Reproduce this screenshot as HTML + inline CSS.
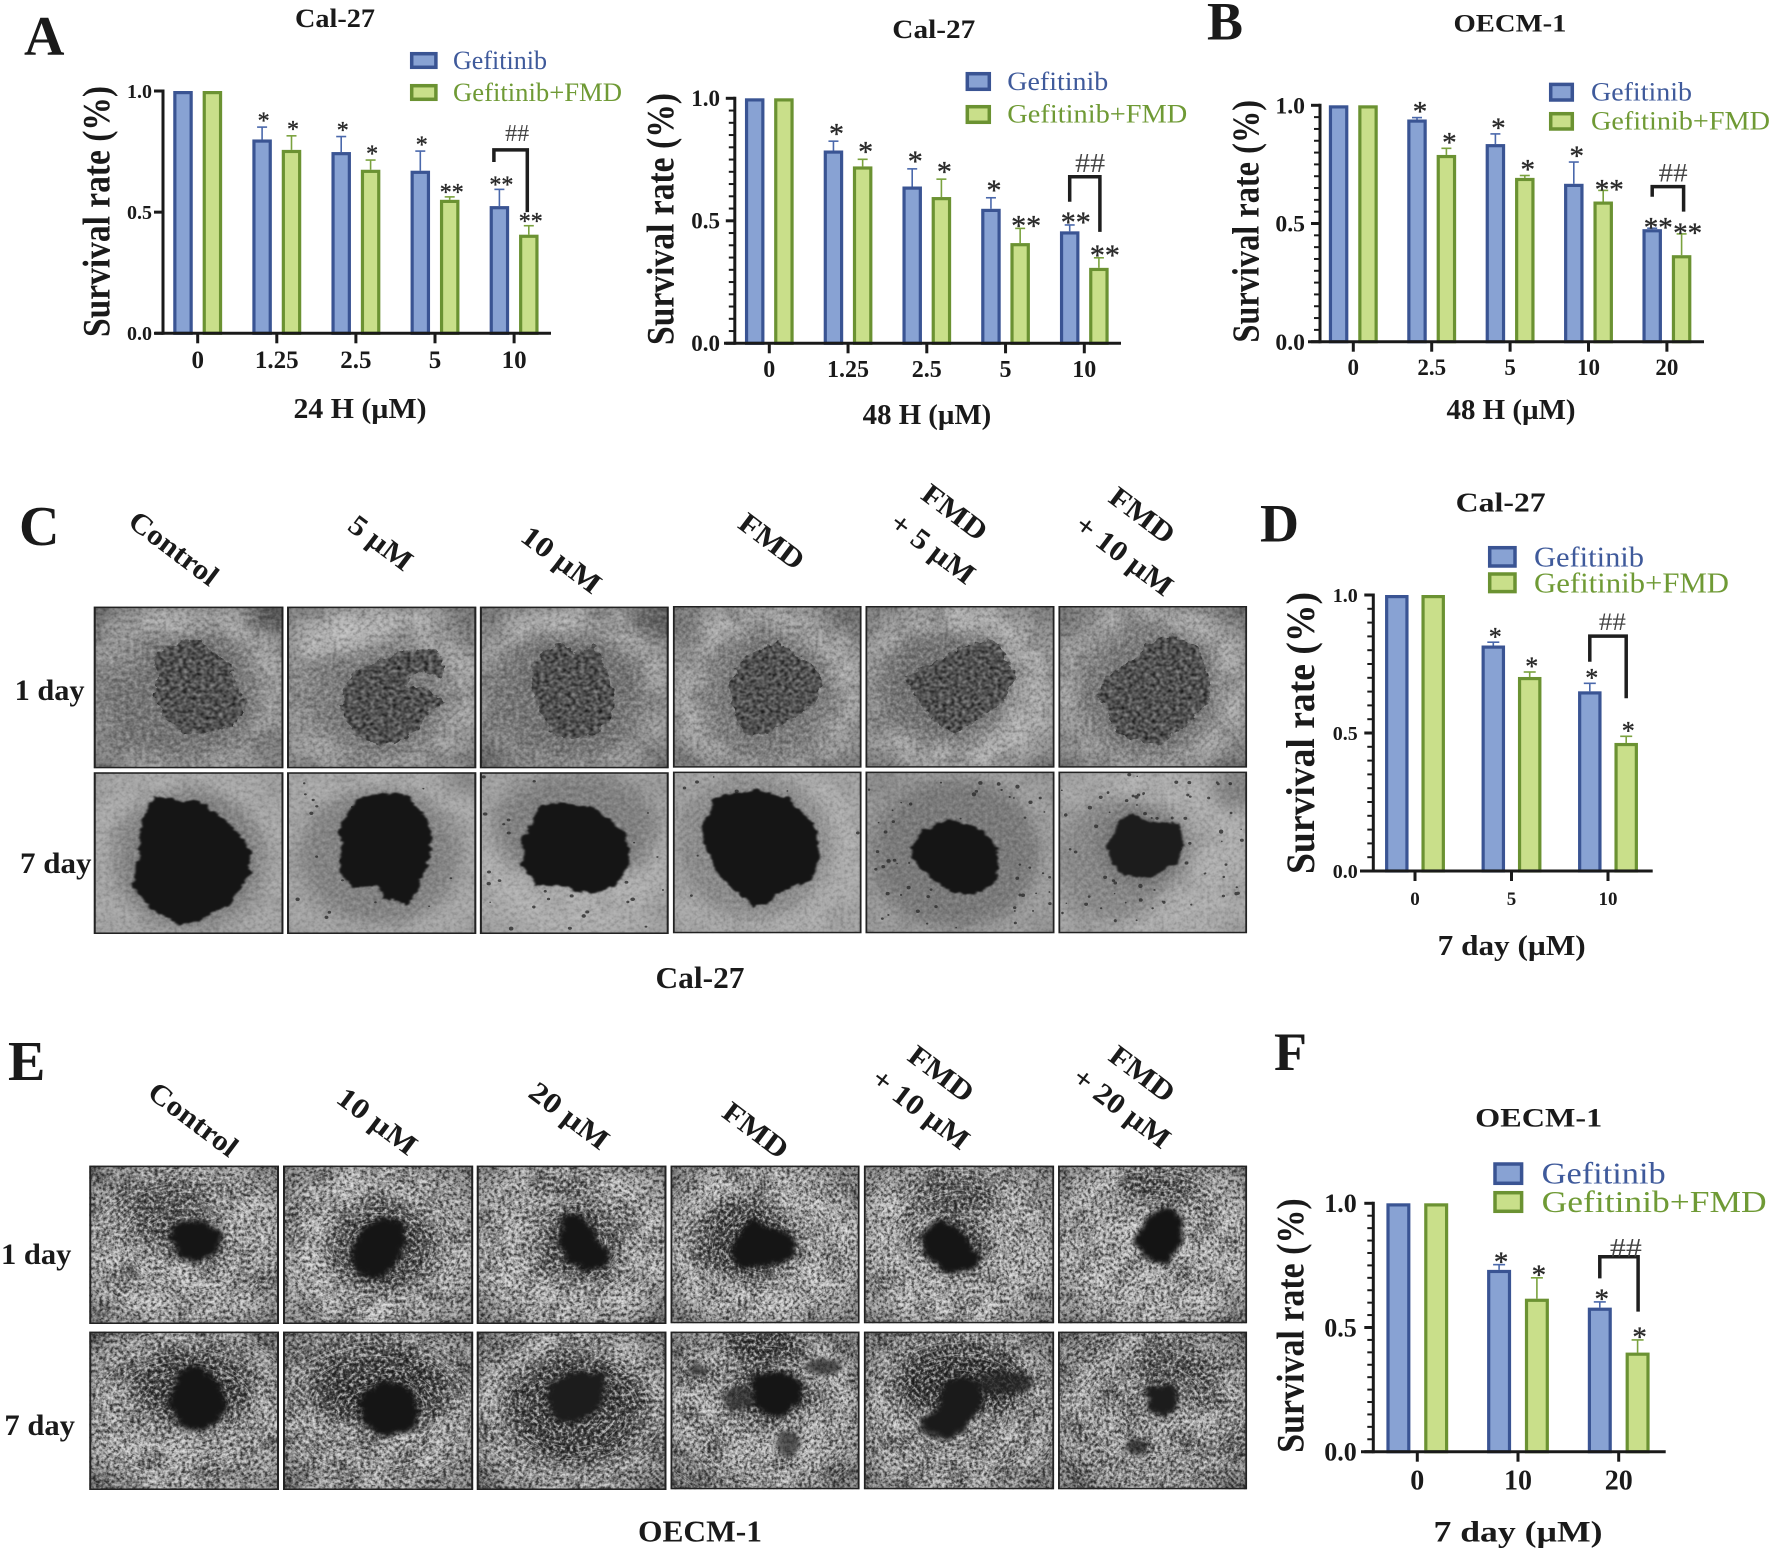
<!DOCTYPE html>
<html lang="en">
<head>
<meta charset="utf-8">
<title>Survival rate and spheroid figure</title>
<style>
html,body{margin:0;padding:0;background:#fff;}
svg#figure{display:block;font-family:"Liberation Serif",serif;}
.b{font-weight:bold;fill:#1a1a1a;}
.lg-blue{fill:#3f5a9b;}
.lg-green{fill:#6f9a35;}
.sw-blue{fill:#88a2d3;stroke:#3a5493;stroke-width:3.5;}
.sw-green{fill:#c9df8a;stroke:#6b9232;stroke-width:3.5;}
</style>
</head>
<body>
<svg id="figure" xmlns="http://www.w3.org/2000/svg" width="1772" height="1552" viewBox="0 0 1772 1552">
<defs>
<filter id="blur" x="-40%" y="-40%" width="180%" height="180%"><feGaussianBlur stdDeviation="24"/></filter>
<filter id="rough" x="-15%" y="-15%" width="130%" height="130%" color-interpolation-filters="sRGB">
<feTurbulence type="fractalNoise" baseFrequency=".05" numOctaves="3" seed="4" result="n"/>
<feDisplacementMap in="SourceGraphic" in2="n" scale="20" xChannelSelector="R" yChannelSelector="G"/>
<feGaussianBlur stdDeviation="2.5"/>
</filter>
<filter id="roughSoft" x="-25%" y="-25%" width="150%" height="150%" color-interpolation-filters="sRGB">
<feTurbulence type="fractalNoise" baseFrequency=".06" numOctaves="3" seed="7" result="n"/>
<feDisplacementMap in="SourceGraphic" in2="n" scale="26" xChannelSelector="R" yChannelSelector="G"/>
<feGaussianBlur stdDeviation="6"/>
</filter>
<filter id="gran" x="-15%" y="-15%" width="130%" height="130%" color-interpolation-filters="sRGB">
<feTurbulence type="fractalNoise" baseFrequency=".05" numOctaves="3" seed="3" result="n"/>
<feDisplacementMap in="SourceGraphic" in2="n" scale="24" xChannelSelector="R" yChannelSelector="G" result="d"/>
<feTurbulence type="fractalNoise" baseFrequency=".1" numOctaves="2" seed="8"/>
<feColorMatrix values=".7 0 0 0 -.03  .7 0 0 0 -.03  .7 0 0 0 -.03  0 0 0 0 1"/>
<feGaussianBlur stdDeviation="1.2" result="g"/>
<feComposite in="g" in2="d" operator="in"/>
</filter>
<filter id="texC" x="0" y="0" width="100%" height="100%" color-interpolation-filters="sRGB">
<feTurbulence type="fractalNoise" baseFrequency=".11 .09" numOctaves="2" seed="11"/>
<feColorMatrix values="1.4 0 0 0 -.2  1.4 0 0 0 -.2  1.4 0 0 0 -.2  0 0 0 0 1"/>
</filter>
<filter id="texE" x="0" y="0" width="100%" height="100%" color-interpolation-filters="sRGB">
<feTurbulence type="fractalNoise" baseFrequency=".13 .1" numOctaves="3" seed="5"/>
<feColorMatrix values="2 0 0 0 -.5  2 0 0 0 -.5  2 0 0 0 -.5  0 0 0 0 1"/>
</filter>
<filter id="texLow" x="0" y="0" width="100%" height="100%" color-interpolation-filters="sRGB">
<feTurbulence type="fractalNoise" baseFrequency=".016 .014" numOctaves="2" seed="21"/>
<feColorMatrix values="2 0 0 0 -.5  2 0 0 0 -.5  2 0 0 0 -.5  0 0 0 0 1"/>
</filter>
<radialGradient id="vign" cx="50%" cy="50%" r="72%">
<stop offset="62%" stop-color="#000" stop-opacity="0"/>
<stop offset="100%" stop-color="#000" stop-opacity=".5"/>
</radialGradient>
</defs>

<g id="tiles-c-left" transform="translate(0,490) scale(.4464,.3333)"></g>
<g id="tiles-c-right" transform="translate(650,470) scale(.3954,.3333)"></g>
<g id="tiles-e-left" transform="translate(0,1030) scale(.4464,.3333)"></g>
<g id="tiles-e-right" transform="translate(650,1030) scale(.3954,.3333)"></g>

<!-- panel letters -->
<text class="b" x="24" y="55" font-size="56">A</text>
<text class="b" x="1207" y="39.5" font-size="54">B</text>
<text class="b" x="19" y="545" font-size="56">C</text>
<text class="b" x="1260" y="541.5" font-size="54">D</text>
<text class="b" x="8" y="1080" font-size="56">E</text>
<text class="b" x="1274" y="1070" font-size="54">F</text>

<!-- Chart A -->
<g id="chart-a">
<text class="b" x="335" y="27" font-size="26" text-anchor="middle" textLength="80" lengthAdjust="spacingAndGlyphs">Cal-27</text>
<text class="b" transform="translate(109.5,211.5) rotate(-90)" font-size="39" text-anchor="middle" textLength="251" lengthAdjust="spacingAndGlyphs">Survival rate (%)</text>
<text class="b" x="360" y="418" font-size="28" text-anchor="middle" textLength="133" lengthAdjust="spacingAndGlyphs">24 H (µM)</text>
<rect class="sw-blue" x="411.7" y="53.7" width="24.2" height="13.6"/>
<text class="lg-blue" x="453" y="69" font-size="26" textLength="94" lengthAdjust="spacingAndGlyphs">Gefitinib</text>
<rect class="sw-green" x="411.7" y="85.7" width="24.2" height="13.6"/>
<text class="lg-green" x="453" y="101" font-size="26" textLength="169" lengthAdjust="spacingAndGlyphs">Gefitinib+FMD</text>
</g>

<!-- Chart A2 -->
<g id="chart-a2">
<text class="b" x="933.8" y="38" font-size="26" text-anchor="middle" textLength="83" lengthAdjust="spacingAndGlyphs">Cal-27</text>
<text class="b" transform="translate(673.6,219) rotate(-90)" font-size="39" text-anchor="middle" textLength="252" lengthAdjust="spacingAndGlyphs">Survival rate (%)</text>
<text class="b" x="927" y="424" font-size="28" text-anchor="middle" textLength="128.6" lengthAdjust="spacingAndGlyphs">48 H (µM)</text>
<rect class="sw-blue" x="967.3" y="73.7" width="22" height="15.6"/>
<text class="lg-blue" x="1007.3" y="90" font-size="26" textLength="101" lengthAdjust="spacingAndGlyphs">Gefitinib</text>
<rect class="sw-green" x="967.3" y="106.7" width="22" height="15.6"/>
<text class="lg-green" x="1007.3" y="122.7" font-size="26" textLength="180" lengthAdjust="spacingAndGlyphs">Gefitinib+FMD</text>
</g>

<!-- Chart B -->
<g id="chart-b">
<text class="b" x="1510" y="31.7" font-size="25" text-anchor="middle" textLength="113" lengthAdjust="spacingAndGlyphs">OECM-1</text>
<text class="b" transform="translate(1258.7,221.3) rotate(-90)" font-size="38" text-anchor="middle" textLength="242.7" lengthAdjust="spacingAndGlyphs">Survival rate (%)</text>
<text class="b" x="1511" y="419" font-size="28" text-anchor="middle" textLength="129" lengthAdjust="spacingAndGlyphs">48 H (µM)</text>
<rect class="sw-blue" x="1550.7" y="84.4" width="21.6" height="15.6"/>
<text class="lg-blue" x="1591" y="100.7" font-size="26" textLength="101" lengthAdjust="spacingAndGlyphs">Gefitinib</text>
<rect class="sw-green" x="1550.7" y="113.7" width="21.6" height="15.3"/>
<text class="lg-green" x="1591" y="129.3" font-size="26" textLength="179" lengthAdjust="spacingAndGlyphs">Gefitinib+FMD</text>
</g>

<!-- Chart D -->
<g id="chart-d">
<text class="b" x="1500.7" y="511.7" font-size="27" text-anchor="middle" textLength="90" lengthAdjust="spacingAndGlyphs">Cal-27</text>
<text class="b" transform="translate(1314,733) rotate(-90)" font-size="40" text-anchor="middle" textLength="282" lengthAdjust="spacingAndGlyphs">Survival rate (%)</text>
<text class="b" x="1511.7" y="955" font-size="28" text-anchor="middle" textLength="148" lengthAdjust="spacingAndGlyphs">7 day (µM)</text>
<rect class="sw-blue" x="1489.7" y="547.7" width="25.3" height="18.3"/>
<text class="lg-blue" x="1534" y="566.7" font-size="28" textLength="110" lengthAdjust="spacingAndGlyphs">Gefitinib</text>
<rect class="sw-green" x="1489.7" y="574" width="25.3" height="17.6"/>
<text class="lg-green" x="1534" y="592.7" font-size="28" textLength="195" lengthAdjust="spacingAndGlyphs">Gefitinib+FMD</text>
</g>

<!-- Chart F -->
<g id="chart-f">
<text class="b" x="1538.7" y="1126.7" font-size="26" text-anchor="middle" textLength="127" lengthAdjust="spacingAndGlyphs">OECM-1</text>
<text class="b" transform="translate(1303.3,1325.5) rotate(-90)" font-size="39" text-anchor="middle" textLength="254.4" lengthAdjust="spacingAndGlyphs">Survival rate (%)</text>
<text class="b" x="1518" y="1541.7" font-size="30" text-anchor="middle" textLength="169" lengthAdjust="spacingAndGlyphs">7 day (µM)</text>
<rect class="sw-blue" x="1495" y="1164" width="26.6" height="19.3"/>
<text class="lg-blue" x="1541.7" y="1183.3" font-size="31" textLength="124" lengthAdjust="spacingAndGlyphs">Gefitinib</text>
<rect class="sw-green" x="1495" y="1192.7" width="26.6" height="18.6"/>
<text class="lg-green" x="1541.7" y="1212" font-size="31" textLength="225" lengthAdjust="spacingAndGlyphs">Gefitinib+FMD</text>
</g>

<!-- Panel C labels -->
<g>
<text class="b" transform="translate(174,548) rotate(37)" y="10" font-size="29" text-anchor="middle" textLength="104" lengthAdjust="spacingAndGlyphs">Control</text>
<text class="b" transform="translate(381,542.5) rotate(37)" y="10" font-size="29" text-anchor="middle" textLength="72" lengthAdjust="spacingAndGlyphs">5 µM</text>
<text class="b" transform="translate(561.6,559.4) rotate(37)" y="10" font-size="29" text-anchor="middle" textLength="92" lengthAdjust="spacingAndGlyphs">10 µM</text>
<text class="b" transform="translate(772,541) rotate(37)" y="10" font-size="29" text-anchor="middle" textLength="74" lengthAdjust="spacingAndGlyphs">FMD</text>
<text class="b" transform="translate(955,512) rotate(37)" y="10" font-size="29" text-anchor="middle" textLength="74" lengthAdjust="spacingAndGlyphs">FMD</text>
<text class="b" transform="translate(933,548) rotate(37)" y="10" font-size="29" text-anchor="middle" textLength="98" lengthAdjust="spacingAndGlyphs">+ 5 µM</text>
<text class="b" transform="translate(1142.5,515) rotate(37)" y="10" font-size="29" text-anchor="middle" textLength="74" lengthAdjust="spacingAndGlyphs">FMD</text>
<text class="b" transform="translate(1124.5,555) rotate(37)" y="10" font-size="29" text-anchor="middle" textLength="114" lengthAdjust="spacingAndGlyphs">+ 10 µM</text>
<text class="b" x="14.6" y="700" font-size="30" textLength="70" lengthAdjust="spacingAndGlyphs">1 day</text>
<text class="b" x="20" y="873" font-size="30" textLength="71.5" lengthAdjust="spacingAndGlyphs">7 day</text>
<text class="b" x="700" y="988" font-size="31" text-anchor="middle" textLength="89" lengthAdjust="spacingAndGlyphs">Cal-27</text>
</g>

<!-- Panel E labels -->
<g>
<text class="b" transform="translate(193.5,1119) rotate(37)" y="10" font-size="29" text-anchor="middle" textLength="104" lengthAdjust="spacingAndGlyphs">Control</text>
<text class="b" transform="translate(377.4,1121) rotate(37)" y="10" font-size="29" text-anchor="middle" textLength="92" lengthAdjust="spacingAndGlyphs">10 µM</text>
<text class="b" transform="translate(569.5,1115.5) rotate(37)" y="10" font-size="29" text-anchor="middle" textLength="92" lengthAdjust="spacingAndGlyphs">20 µM</text>
<text class="b" transform="translate(756,1130) rotate(37)" y="10" font-size="29" text-anchor="middle" textLength="74" lengthAdjust="spacingAndGlyphs">FMD</text>
<text class="b" transform="translate(941.5,1073.5) rotate(37)" y="10" font-size="29" text-anchor="middle" textLength="74" lengthAdjust="spacingAndGlyphs">FMD</text>
<text class="b" transform="translate(921,1108.6) rotate(37)" y="10" font-size="29" text-anchor="middle" textLength="114" lengthAdjust="spacingAndGlyphs">+ 10 µM</text>
<text class="b" transform="translate(1142.5,1073.5) rotate(37)" y="10" font-size="29" text-anchor="middle" textLength="74" lengthAdjust="spacingAndGlyphs">FMD</text>
<text class="b" transform="translate(1122,1107.5) rotate(37)" y="10" font-size="29" text-anchor="middle" textLength="114" lengthAdjust="spacingAndGlyphs">+ 20 µM</text>
<text class="b" x="1" y="1264" font-size="30" textLength="70.4" lengthAdjust="spacingAndGlyphs">1 day</text>
<text class="b" x="4.4" y="1435" font-size="30" textLength="70.6" lengthAdjust="spacingAndGlyphs">7 day</text>
<text class="b" x="700" y="1541.7" font-size="31" text-anchor="middle" textLength="124" lengthAdjust="spacingAndGlyphs">OECM-1</text>
</g>
</svg>

<script>
// ---------- chart data ----------
const yTickValues = [0, 0.5, 1];
const yTickLabels = ['0.0', '0.5', '1.0'];

const a24Categories = ['0', '1.25', '2.5', '5', '10'];
const a24Gefitinib = [1, 0.8, 0.748, 0.671, 0.525];
const a24Combo = [1, 0.757, 0.675, 0.551, 0.407];
const a24GefitinibErr = [0, 0.051, 0.064, 0.081, 0.069];
const a24ComboErr = [0, 0.058, 0.04, 0.012, 0.037];
const a24GefitinibSig = ['', '*', '*', '*', '**'];
const a24ComboSig = ['', '*', '*', '**', '**'];
const a24Bracket = [0.757, 0.707, 0.5];

const a48Categories = ['0', '1.25', '2.5', '5', '10'];
const a48Gefitinib = [1, 0.787, 0.64, 0.549, 0.457];
const a48Combo = [1, 0.722, 0.597, 0.409, 0.308];
const a48GefitinibErr = [0, 0.038, 0.072, 0.045, 0.026];
const a48ComboErr = [0, 0.029, 0.073, 0.06, 0.041];
const a48GefitinibSig = ['', '*', '*', '*', '**'];
const a48ComboSig = ['', '*', '*', '**', '**'];
const a48Bracket = [0.68, 0.578, 0.455];

const b48Categories = ['0', '2.5', '5', '10', '20'];
const b48Gefitinib = [1, 0.94, 0.836, 0.668, 0.476];
const b48Combo = [1, 0.79, 0.693, 0.593, 0.366];
const b48GefitinibErr = [0, 0.008, 0.043, 0.092, 0.004];
const b48ComboErr = [0, 0.028, 0.01, 0.047, 0.09];
const b48GefitinibSig = ['', '*', '*', '*', '**'];
const b48ComboSig = ['', '*', '*', '**', '**'];
const b48Bracket = [0.656, 0.613, 0.55];

const d7Categories = ['0', '5', '10'];
const d7Gefitinib = [1, 0.817, 0.651];
const d7Combo = [1, 0.703, 0.464];
const d7GefitinibErr = [0, 0.012, 0.029];
const d7ComboErr = [0, 0.018, 0.024];
const d7GefitinibSig = ['', '*', '*'];
const d7ComboSig = ['', '*', '*'];
const d7Bracket = [0.851, 0.758, 0.626];

const f7Categories = ['0', '10', '20'];
const f7Gefitinib = [1, 0.732, 0.58];
const f7Combo = [1, 0.616, 0.399];
const f7GefitinibErr = [0, 0.021, 0.023];
const f7ComboErr = [0, 0.084, 0.051];
const f7GefitinibSig = ['', '*', '*'];
const f7ComboSig = ['', '*', '*'];
const f7Bracket = [0.785, 0.698, 0.564];

const SVGNS = 'http://www.w3.org/2000/svg';
function make(tag, attrs, parent) {
  const e = document.createElementNS(SVGNS, tag);
  for (const k in attrs) e.setAttribute(k, attrs[k]);
  parent.appendChild(e);
  return e;
}

function drawChart(id, L, categories, gef, combo, gefErr, comboErr, gefSig, comboSig, bracket) {
  const root = document.getElementById(id);
  const yS = v => L.y0 - v * (L.y0 - L.y1);
  const xS = i => L.x0 + i * L.step;

  categories.forEach((cat, i) => {
    [[gef, gefErr, gefSig, -L.off, '#88a2d3', '#3a5493', '#4a68ab', 'gefitinib'],
     [combo, comboErr, comboSig, L.off, '#c9df8a', '#6b9232', '#7aa23e', 'gefitinib-fmd']].forEach(s => {
      const cx = xS(i) + s[3];
      const top = yS(s[0][i]);
      const errTop = yS(s[0][i] + s[1][i]);
      if (s[1][i] > 0) {
        const stem = make('line', {x1: cx, x2: cx, y1: top, y2: errTop, stroke: s[6], 'stroke-width': 1.6}, root);
        
        
        const cap = make('line', {x1: cx - L.cap, x2: cx + L.cap, y1: errTop, y2: errTop, stroke: s[6], 'stroke-width': 1.6}, root);
        
        
      }
      const bar = make('rect', {x: cx - L.barW / 2 + 1.6, y: top + 1.6, width: L.barW - 3.2, height: L.y0 - top - 1.6, fill: s[4], stroke: s[5], 'stroke-width': 3.2}, root);
      
      
      const sig = s[2][i];
      if (sig) {
        const dx = sig.length > 1 ? L.starDx2 : L.starDx1;
        const gap = sig.length > 1 ? L.starGap2 : L.starGap;
        const st = make('text', {x: cx + dx, y: errTop - gap + 0.47 * L.starFs, 'font-size': L.starFs, 'text-anchor': 'middle', fill: '#2a2a2a', stroke: '#2a2a2a', 'stroke-width': 0.35}, root);
        
        
        st.textContent = sig;
      }
    });
    const tick = make('line', {x1: xS(i), x2: xS(i), y1: L.y0, y2: L.y0 + 10, stroke: '#1a1a1a', 'stroke-width': 3}, root);
    
    
    const lab = make('text', {x: xS(i), y: L.xLabelY, 'font-size': L.xFs, 'font-weight': 'bold', 'text-anchor': 'middle', fill: '#1a1a1a'}, root);
    
    
    lab.textContent = cat;
  });

  if (L.minor) {
    for (let k = 1; k < 20; k++) {
      const m = make('line', {x1: L.axisX - 6, x2: L.axisX, y1: yS(k * 0.05), y2: yS(k * 0.05), stroke: '#1a1a1a', 'stroke-width': 2}, root);
      
      
    }
  }
  yTickValues.forEach((v, i) => {
    const t = make('line', {x1: L.axisX - 9, x2: L.axisX, y1: yS(v), y2: yS(v), stroke: '#1a1a1a', 'stroke-width': 3}, root);
    
    
    const lab = make('text', {x: L.yLabelX, y: yS(v) + 0.34 * L.yFs, 'font-size': L.yFs, 'font-weight': 'bold', 'text-anchor': 'end', fill: '#1a1a1a'}, root);
    
    
    lab.textContent = yTickLabels[i];
  });

  const ya = make('line', {x1: L.axisX, x2: L.axisX, y1: L.y1 - 1.5, y2: L.y0 + 1.5, stroke: '#1a1a1a', 'stroke-width': 3}, root);
  
  
  const xa = make('line', {x1: L.xAxisL, x2: L.xAxisR, y1: L.y0, y2: L.y0, stroke: '#1a1a1a', 'stroke-width': 3}, root);
  
  

  const last = categories.length - 1;
  const bl = xS(last) - L.off + L.brDx;
  const br = xS(last) + L.off + L.brDr;
  const path = make('path', {d: 'M' + bl + ' ' + yS(bracket[1]) + 'V' + yS(bracket[0]) + 'H' + br + 'V' + yS(bracket[2]), fill: 'none', stroke: '#1e1e1e', 'stroke-width': 3.5}, root);
  
  
  const hash = make('text', {x: (bl + br) / 2 + L.hashDx, y: yS(bracket[0]) - L.hashGap + 0.33 * L.hashFs, 'font-size': L.hashFs, 'text-anchor': 'middle', fill: '#444', textLength: L.hashW, lengthAdjust: 'spacingAndGlyphs'}, root);
  
  
  hash.textContent = '##';
}

drawChart('chart-a', {x0: 197.7, step: 79.1, off: 14.7, barW: 19.5, axisX: 163, y1: 91, y0: 333.3, xAxisL: 155, xAxisR: 551, xLabelY: 368, xFs: 25, yFs: 20, yLabelX: 152, minor: false, cap: 5, starFs: 24, starGap: 10, starGap2: 8, starDx1: 1.5, starDx2: 2, brDx: -5.5, brDr: -1.5, hashDx: 6.5, hashGap: 17, hashFs: 24, hashW: 24},
  a24Categories, a24Gefitinib, a24Combo, a24GefitinibErr, a24ComboErr, a24GefitinibSig, a24ComboSig, a24Bracket);
drawChart('chart-a2', {x0: 769.3, step: 78.75, off: 14.6, barW: 19.5, axisX: 734.8, y1: 98.3, y0: 343.3, xAxisL: 724, xAxisR: 1121, xLabelY: 377, xFs: 24, yFs: 23, yLabelX: 720, minor: true, cap: 5, starFs: 30, starGap: 12, starGap2: 7, starDx1: 3, starDx2: 6, brDx: 0, brDr: 1, hashDx: 5.4, hashGap: 13.7, hashFs: 27, hashW: 30},
  a48Categories, a48Gefitinib, a48Combo, a48GefitinibErr, a48ComboErr, a48GefitinibSig, a48ComboSig, a48Bracket);
drawChart('chart-b', {x0: 1353.3, step: 78.4, off: 14.7, barW: 19.5, axisX: 1320, y1: 105.3, y0: 341.7, xAxisL: 1308, xAxisR: 1704, xLabelY: 375, xFs: 23, yFs: 23.7, yLabelX: 1305, minor: true, cap: 5, starFs: 29, starGap: 10, starGap2: 5, starDx1: 3, starDx2: 6, brDx: 0, brDr: 2, hashDx: 5.3, hashGap: 13.7, hashFs: 26, hashW: 29},
  b48Categories, b48Gefitinib, b48Combo, b48GefitinibErr, b48ComboErr, b48GefitinibSig, b48ComboSig, b48Bracket);
drawChart('chart-d', {x0: 1415, step: 96.5, off: 18.2, barW: 23.5, axisX: 1373.3, y1: 595, y0: 871, xAxisL: 1360, xAxisR: 1652.7, xLabelY: 905, xFs: 19, yFs: 20, yLabelX: 1357.7, minor: true, cap: 6, starFs: 26, starGap: 9, starGap2: 9, starDx1: 2, starDx2: 2, brDx: 0, brDr: 0, hashDx: 4.4, hashGap: 14.3, hashFs: 25, hashW: 27},
  d7Categories, d7Gefitinib, d7Combo, d7GefitinibErr, d7ComboErr, d7GefitinibSig, d7ComboSig, d7Bracket);
drawChart('chart-f', {x0: 1417.3, step: 100.7, off: 18.9, barW: 24, axisX: 1373.3, y1: 1203.3, y0: 1451.7, xAxisL: 1361, xAxisR: 1665.7, xLabelY: 1489.3, xFs: 28, yFs: 26, yLabelX: 1356.7, minor: true, cap: 6, starFs: 29, starGap: 7, starGap2: 7, starDx1: 2, starDx2: 2, brDx: 0, brDr: 0.5, hashDx: 7, hashGap: 8.7, hashFs: 26, hashW: 32},
  f7Categories, f7Gefitinib, f7Combo, f7GefitinibErr, f7ComboErr, f7GefitinibSig, f7ComboSig, f7Bracket);

// ---------- microscope tiles (illustrative drawing, coordinates in crop space) ----------
let seed = 20240;
function rnd() {
  seed = (Math.imul(seed, 1664525) + 1013904223) >>> 0;
  return seed / 4294967296;
}

function drawTile(groupId, t) {
  const g = document.getElementById(groupId);
  const s = make('svg', {x: t.x, y: t.y, width: t.w, height: t.h, viewBox: t.x + ' ' + t.y + ' ' + t.w + ' ' + t.h, preserveAspectRatio: 'none'}, g);
  
  

  const bg = make('rect', {x: t.x, y: t.y, width: t.w, height: t.h, fill: t.bg}, s);
  
  

  const low = make('rect', {x: t.x, y: t.y, width: t.w, height: t.h, filter: 'url(#texLow)', opacity: t.fibers ? 0.28 : (t.granular ? 0.14 : 0.05), style: 'mix-blend-mode:hard-light'}, s);
  
  

  (t.halos || []).forEach(h => {
    const e = make('ellipse', {cx: h[0], cy: h[1], rx: h[2], ry: h[3], fill: h[4], opacity: h[5], filter: 'url(#blur)'}, s);
    
    
  });

  const tex = make('rect', {x: t.x, y: t.y, width: t.w, height: t.h, filter: t.fibers ? 'url(#texE)' : 'url(#texC)', opacity: t.fibers ? 0.6 : (t.granular ? 0.28 : 0.16), style: 'mix-blend-mode:hard-light'}, s);
  
  

  if (t.fibers) {
    const cx = t.x + t.w / 2, cy = t.y + t.h / 2;
    let d = '';
    for (let i = 0; i < 240; i++) {
      const r = 60 + rnd() * 300;
      const a0 = rnd() * 6.283;
      const a1 = a0 + 0.1 + rnd() * 0.3;
      const rx = r * 1.05, ry = r;
      d += 'M' + (cx + rx * Math.cos(a0)).toFixed(0) + ' ' + (cy + ry * Math.sin(a0)).toFixed(0) +
        'A' + rx.toFixed(0) + ' ' + ry.toFixed(0) + ' 0 0 1 ' + (cx + rx * Math.cos(a1)).toFixed(0) + ' ' + (cy + ry * Math.sin(a1)).toFixed(0);
    }
    const arcs = make('path', {d: d, fill: 'none', stroke: '#ececec', 'stroke-width': 2.6, opacity: 0.34}, s);
    
    
  }

  if (t.specks) {
    let d = '';
    for (let i = 0; i < t.specks; i++) {
      const px = t.x + 8 + rnd() * (t.w - 16), py = t.y + 8 + rnd() * (t.h - 16), r = 2 + rnd() * 3.5;
      d += 'M' + (px - r).toFixed(0) + ' ' + py.toFixed(0) + 'a' + r.toFixed(1) + ' ' + r.toFixed(1) + ' 0 1 0 ' + (2 * r).toFixed(1) + ' 0a' + r.toFixed(1) + ' ' + r.toFixed(1) + ' 0 1 0 ' + (-2 * r).toFixed(1) + ' 0';
    }
    const sp = make('path', {d: d, fill: '#2c2c2c', opacity: 0.8}, s);
    
    
  }

  (t.clusters || []).forEach(c => {
    const e = make('ellipse', {cx: c[0], cy: c[1], rx: c[2], ry: c[3], fill: c[4], opacity: 0.75, filter: 'url(#roughSoft)'}, s);
    
    
  });

  const blob = make('polygon', {points: t.blob, fill: t.blobColor || '#151515', filter: t.granular ? 'url(#gran)' : (t.fibers ? 'url(#roughSoft)' : 'url(#rough)')}, s);
  
  

  const vg = make('rect', {x: t.x, y: t.y, width: t.w, height: t.h, fill: 'url(#vign)', opacity: t.vign === undefined ? 0.6 : t.vign}, s);
  
  

  const b = make('rect', {x: t.x, y: t.y, width: t.w, height: t.h, fill: 'none', stroke: '#222', 'stroke-width': 9}, s);
  
  
}

const tilesCLeft = [
 {name:'cal27-control-day1',x:210,y:350,w:425,h:485,bg:'#9c9c9c',granular:true,halos:[[400,610,185,205,'#6e6e6e',.85],[385,400,70,40,'#c0c0c0',.6],[610,375,50,40,'#555',.7],[270,480,50,70,'#b0b0b0',.4]],
  blob:'345,510 370,470 420,455 445,450 480,490 520,530 525,580 550,640 530,700 480,725 410,730 370,680 345,620 355,570'},
 {name:'cal27-5um-day1',x:643,y:350,w:424,h:485,bg:'#a2a2a2',granular:true,halos:[[840,630,170,190,'#727272',.8],[760,430,110,60,'#c4c4c4',.6],[1030,420,40,60,'#777',.5],[700,780,70,40,'#c0c0c0',.5]],
  blob:'765,600 800,540 860,510 900,485 935,480 975,475 995,520 990,565 950,545 915,560 910,590 950,590 1000,640 960,660 940,720 860,770 800,740 770,680'},
 {name:'cal27-10um-day1',x:1075,y:350,w:423,h:485,bg:'#9a9a9a',granular:true,halos:[[1270,620,180,200,'#6e6e6e',.85],[1240,400,100,40,'#b8b8b8',.5],[1470,400,40,60,'#606060',.7],[1090,800,60,50,'#707070',.5]],
  blob:'1190,530 1215,490 1255,455 1290,490 1330,465 1350,510 1375,590 1370,680 1340,730 1290,745 1245,740 1210,660 1190,600'},
 {name:'cal27-control-day7',x:210,y:847,w:425,h:485,bg:'#ababab',vign:.2,blobColor:'#151515',halos:[[425,1110,175,215,'#7d7d7d',.9]],
  blob:'345,918 415,935 445,925 475,960 520,1010 560,1075 560,1150 520,1240 440,1295 400,1305 340,1260 295,1190 310,1100 315,1000'},
 {name:'cal27-5um-day7',x:643,y:847,w:424,h:485,bg:'#acacac',vign:.2,specks:22,halos:[[850,1100,190,210,'#7f7f7f',.9],[1040,860,30,50,'#777',.7]],
  blob:'800,925 860,910 920,920 965,1010 965,1090 945,1170 915,1245 860,1225 845,1190 790,1190 760,1140 765,1060 758,1020'},
 {name:'cal27-10um-day7',x:1075,y:847,w:423,h:485,bg:'#acacac',vign:.2,specks:38,halos:[[1290,1010,190,170,'#7c7c7c',.9]],
  blob:'1205,950 1255,935 1340,960 1405,1040 1410,1120 1380,1190 1320,1210 1260,1190 1200,1185 1170,1130 1170,1050'}
];
const tilesCRight = [
 {name:'cal27-fmd-day1',x:58,y:408,w:477,h:485,bg:'#a0a0a0',granular:true,halos:[[300,680,165,200,'#727272',.85],[490,430,60,40,'#707070',.6],[100,520,30,70,'#666',.5]],
  blob:'200,640 235,565 320,515 405,580 435,625 425,690 370,745 290,790 240,800 210,720'},
 {name:'cal27-5um-fmd-day1',x:545,y:408,w:478,h:485,bg:'#a2a2a2',granular:true,halos:[[740,650,175,170,'#6e6e6e',.9],[960,800,70,60,'#bcbcbc',.5],[850,440,80,30,'#bcbcbc',.5]],
  blob:'640,620 730,570 800,525 870,510 925,610 900,690 840,740 770,795 690,720'},
 {name:'cal27-10um-fmd-day1',x:1033,y:408,w:477,h:485,bg:'#a0a0a0',granular:true,halos:[[1260,670,180,200,'#727272',.85],[1090,470,40,50,'#777',.5],[1470,430,50,40,'#707070',.5]],
  blob:'1125,680 1155,620 1240,555 1250,525 1320,495 1385,530 1415,620 1410,700 1350,770 1290,825 1220,810 1165,770 1160,720'},
 {name:'cal27-fmd-day7',x:58,y:905,w:477,h:485,bg:'#acacac',vign:.2,specks:10,halos:[[260,1130,200,220,'#858585',.85]],
  blob:'160,985 270,958 350,985 415,1060 432,1150 410,1230 320,1270 300,1300 260,1315 240,1290 175,1220 135,1120 130,1080'},
 {name:'cal27-5um-fmd-day7',x:545,y:905,w:478,h:485,bg:'#a2a2a2',vign:.25,specks:70,halos:[[770,1150,220,230,'#747474',.9],[600,960,60,50,'#888',.6]],
  blob:'660,1130 690,1080 760,1048 840,1080 880,1140 880,1230 830,1270 770,1272 710,1225 665,1170'},
 {name:'cal27-10um-fmd-day7',x:1033,y:905,w:477,h:485,bg:'#acacac',vign:.2,specks:75,blobColor:'#1c1c1c',halos:[[1170,1170,150,190,'#808080',.8],[1480,960,60,60,'#777',.7],[1255,1130,120,120,'#666',.6]],
  blob:'1155,1120 1190,1050 1220,1030 1260,1055 1340,1060 1350,1120 1335,1180 1260,1225 1190,1215 1165,1170'}
];
const tilesELeft = [
 {name:'oecm1-control-day1',x:200,y:407,w:425,h:475,bg:'#989898',fibers:true,halos:[[375,550,100,110,'#4c4c4c',.85],[460,640,60,60,'#555',.5]],
  blob:'385,580 440,570 480,585 500,610 490,640 500,665 465,680 440,705 400,680 380,630'},
 {name:'oecm1-10um-day1',x:634,y:407,w:426,h:475,bg:'#9c9c9c',fibers:true,halos:[[860,650,125,135,'#444',.9]],
  blob:'815,590 860,560 905,580 910,640 880,720 840,750 790,720 785,660'},
 {name:'oecm1-20um-day1',x:1068,y:407,w:425,h:475,bg:'#9c9c9c',fibers:true,halos:[[1295,640,100,125,'#4c4c4c',.9],[1300,470,40,40,'#555',.7]],
  blob:'1260,560 1295,550 1335,600 1340,640 1370,670 1360,705 1310,725 1270,690 1250,630'},
 {name:'oecm1-control-day7',x:200,y:905,w:425,h:475,bg:'#949494',fibers:true,halos:[[430,1070,140,120,'#3c3c3c',.9]],
  blob:'400,1020 450,1005 490,1060 510,1120 490,1180 450,1205 405,1190 375,1120'},
 {name:'oecm1-10um-day7',x:634,y:905,w:426,h:475,bg:'#909090',fibers:true,halos:[[850,1070,165,125,'#383838',.9],[800,960,100,50,'#5a5a5a',.7]],
  blob:'810,1090 860,1050 920,1070 940,1140 930,1200 860,1220 820,1190 800,1130'},
 {name:'oecm1-20um-day7',x:1068,y:905,w:425,h:475,bg:'#909090',fibers:true,blobColor:'#1c1c1c',halos:[[1290,1140,160,170,'#3e3e3e',.9]],
  blob:'1230,1060 1290,1025 1360,1030 1350,1130 1290,1180 1240,1170 1225,1100'}
];
const tilesERight = [
 {name:'oecm1-fmd-day1',x:52,y:407,w:478,h:473,bg:'#9c9c9c',fibers:true,halos:[[240,630,125,120,'#3e3e3e',.9]],
  blob:'215,620 255,565 310,590 365,620 370,670 340,700 270,710 230,720 205,670'},
 {name:'oecm1-10um-fmd-day1',x:541,y:407,w:481,h:473,bg:'#9e9e9e',fibers:true,halos:[[770,490,110,70,'#484848',.85],[770,640,90,90,'#444',.8]],
  blob:'685,620 730,565 790,600 835,680 830,715 750,730 700,680'},
 {name:'oecm1-20um-fmd-day1',x:1032,y:407,w:478,h:473,bg:'#9e9e9e',fibers:true,blobColor:'#141414',halos:[[1300,470,105,60,'#4a4a4a',.85]],
  blob:'1220,630 1260,560 1310,530 1345,560 1350,630 1320,680 1310,710 1250,680'},
 {name:'oecm1-fmd-day7',x:52,y:905,w:478,h:473,bg:'#949494',fibers:true,halos:[[290,950,110,50,'#333',.9],[300,1090,110,90,'#3e3e3e',.8],[100,1340,90,40,'#444',.6]],
  clusters:[[440,1010,45,25,'#2c2c2c'],[225,1105,40,35,'#2c2c2c'],[350,1240,30,40,'#333'],[120,1020,22,22,'#333']],
  blob:'255,1040 330,1020 385,1060 385,1110 350,1150 310,1165 265,1130'},
 {name:'oecm1-10um-fmd-day7',x:541,y:905,w:481,h:473,bg:'#8e8e8e',fibers:true,blobColor:'#1a1a1a',halos:[[790,1060,170,100,'#2e2e2e',.9],[750,960,80,50,'#444',.8]],
  clusters:[[890,1060,80,35,'#222'],[740,1190,60,35,'#222']],
  blob:'740,1060 800,1030 840,1080 840,1130 800,1190 760,1230 700,1200 680,1170 730,1140'},
 {name:'oecm1-20um-fmd-day7',x:1032,y:905,w:478,h:473,bg:'#888888',fibers:true,blobColor:'#1c1c1c',halos:[[1330,1020,110,80,'#4a4a4a',.8]],
  clusters:[[1230,1250,28,24,'#222']],
  blob:'1255,1070 1330,1065 1335,1130 1300,1160 1260,1140'}
];
tilesCLeft.forEach(t => drawTile('tiles-c-left', t));
tilesCRight.forEach(t => drawTile('tiles-c-right', t));
tilesELeft.forEach(t => drawTile('tiles-e-left', t));
tilesERight.forEach(t => drawTile('tiles-e-right', t));
</script>
</body>
</html>
